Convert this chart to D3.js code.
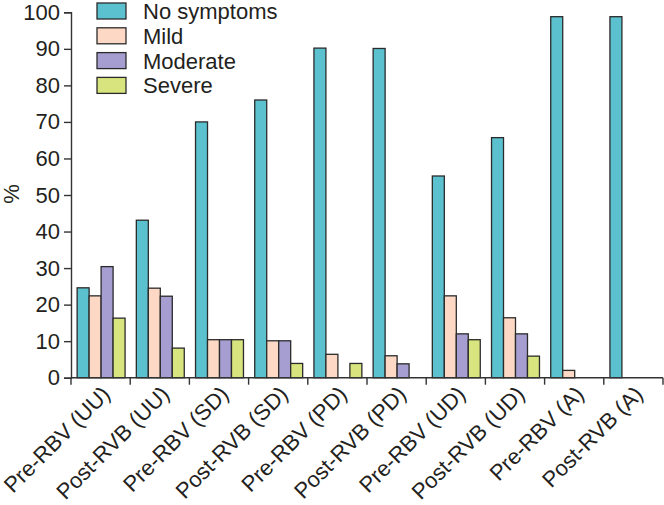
<!DOCTYPE html>
<html lang="en">
<head>
    <meta charset="UTF-8">
    <script src="https://d3js.org/d3.v7.min.js"></script>
    <title>Symptoms bar chart</title>
    <style>
        body{
            margin: 0;
            background: #fff;
        }
        svg{
            display: block;
            font-family: "Liberation Sans", Arial, sans-serif;
        }
        text{
            fill: #231f20;
        }
    </style>
</head>
<body>
<svg width="664" height="505"></svg>
<script>
// data
let categories = ["Pre-RBV (UU)", "Post-RVB (UU)", "Pre-RBV (SD)", "Post-RVB (SD)", "Pre-RBV (PD)",
    "Post-RVB (PD)", "Pre-RBV (UD)", "Post-RVB (UD)", "Pre-RBV (A)", "Post-RVB (A)"]
let seriesNames = ["No symptoms", "Mild", "Moderate", "Severe"]
let noSymptoms = [24.6, 43.1, 70.0, 76.0, 90.2, 90.1, 55.2, 65.7, 98.8, 98.8]
let mild = [22.4, 24.5, 10.4, 10.1, 6.4, 6.0, 22.4, 16.4, 2.0, 0]
let moderate = [30.4, 22.3, 10.4, 10.1, 0, 3.8, 12.0, 12.0, 0, 0]
let severe = [16.3, 8.1, 10.4, 3.9, 3.9, 0, 10.4, 5.9, 0, 0]
let yTicks = [0, 10, 20, 30, 40, 50, 60, 70, 80, 90, 100]
let colors = ["#5bc1cf", "#fdd9c5", "#a69dd0", "#d8e47d"]

let values = [noSymptoms, mild, moderate, severe]

let svg = d3.select("svg")
let plotLeft = 71, plotRight = 663, plotTop = 12.3, plotBottom = 377.7

let x = d3.scaleBand().domain(categories).range([plotLeft, plotRight]).padding(0)
let xInner = d3.scaleBand().domain(seriesNames).range([0, x.bandwidth()])
    .paddingInner(0).paddingOuter(0.47)
let y = d3.scaleLinear().domain([0, 100]).range([plotBottom, plotTop])

// bars
let rows = []
categories.forEach(function (c, i){
    seriesNames.forEach(function (s, j){
        if (values[j][i] > 0) rows.push({c: c, s: s, v: values[j][i], color: colors[j]})
    })
})
svg.append("g").selectAll("rect").data(rows).enter().append("rect")
    .attr("x", d => x(d.c) + xInner(d.s) + 0.5)
    .attr("y", d => y(d.v))
    .attr("width", xInner.bandwidth())
    .attr("height", d => y(0) - y(d.v))
    .attr("fill", d => d.color)
    .attr("stroke", "#2b2b2b")
    .attr("stroke-width", 1.3)

// y axis
let yAxis = svg.append("g")
    .attr("transform", "translate(" + plotLeft + ",0)")
    .call(d3.axisLeft(y).tickValues(yTicks).tickSize(7).tickPadding(4))
yAxis.select(".domain").attr("stroke", "#333").attr("stroke-width", 1.4)
yAxis.selectAll(".tick line").attr("stroke", "#333").attr("stroke-width", 1.4)
yAxis.selectAll("text").attr("font-size", 22).attr("fill", "#231f20")
    .attr("font-family", "'Liberation Sans', Arial, sans-serif")

// x axis: ticks at group boundaries
let xAxisG = svg.append("g")
xAxisG.append("line")
    .attr("x1", plotLeft).attr("x2", plotRight)
    .attr("y1", plotBottom).attr("y2", plotBottom)
    .attr("stroke", "#333").attr("stroke-width", 1.4)
let bounds = categories.map(c => x(c)).concat([plotRight])
xAxisG.selectAll(".bt").data(bounds).enter().append("line")
    .attr("x1", d => d).attr("x2", d => d)
    .attr("y1", plotBottom).attr("y2", plotBottom + 7)
    .attr("stroke", "#333").attr("stroke-width", 1.4)
xAxisG.selectAll("text").data(categories).enter().append("text")
    .attr("transform", d => "translate(" + (x(d) + x.bandwidth() / 2) + "," + (plotBottom + 7) + ") rotate(-45)")
    .attr("text-anchor", "end")
    .attr("dy", "0.7em")
    .attr("font-size", 22)
    .text(d => d)

// y label
svg.append("text")
    .attr("transform", "translate(19,194) rotate(-90)")
    .attr("text-anchor", "middle")
    .attr("font-size", 22)
    .text("%")

// legend
let legend = svg.append("g").selectAll("g").data(seriesNames).enter().append("g")
    .attr("transform", (d, i) => "translate(97," + (3 + i * 24.8) + ")")
legend.append("rect")
    .attr("width", 29).attr("height", 16)
    .attr("fill", (d, i) => colors[i])
    .attr("stroke", "#2b2b2b").attr("stroke-width", 1.3)
legend.append("text")
    .attr("x", 46).attr("y", 8)
    .attr("dy", "0.36em")
    .attr("font-size", 22)
    .text(d => d)
</script>
</body>
</html>
